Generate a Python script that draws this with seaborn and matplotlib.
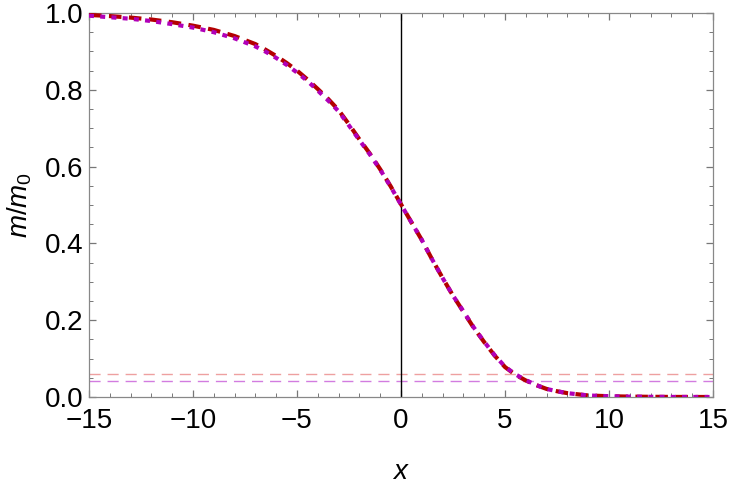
import numpy as np
import pandas as pd
import seaborn as sns
import matplotlib.pyplot as plt
from matplotlib.ticker import MultipleLocator

# -----------------------------------
# Data
# -----------------------------------
x_vals = [-15, -14, -13, -12, -11, -10, -9, -8, -7, -6.5, -6, -5.5, -5, -4.5, -4,
          -3.5, -3, -2.5, -2, -1.5, -1, -0.5, 0, 0.5, 1, 1.5, 2, 2.5, 3, 3.5, 4,
          4.5, 5, 5.5, 6, 6.5, 7, 7.5, 8, 8.5, 9, 10, 11, 12, 13, 14, 15]

m_dashed = [0.995, 0.992, 0.988, 0.983, 0.976, 0.967, 0.956, 0.940, 0.919, 0.904,
            0.888, 0.870, 0.850, 0.827, 0.802, 0.776, 0.747, 0.710, 0.671, 0.634,
            0.593, 0.549, 0.502, 0.455, 0.409, 0.358, 0.310, 0.264, 0.222, 0.180,
            0.143, 0.108, 0.078, 0.058, 0.043, 0.031, 0.021, 0.015, 0.010, 0.007,
            0.004, 0.002, 0.001, 0.0005, 0.0002, 0.0001, 0.0]

m_dotted = [0.993, 0.989, 0.985, 0.979, 0.971, 0.962, 0.950, 0.934, 0.913, 0.899,
            0.883, 0.865, 0.845, 0.823, 0.798, 0.772, 0.744, 0.707, 0.669, 0.632,
            0.592, 0.548, 0.501, 0.455, 0.409, 0.358, 0.310, 0.264, 0.223, 0.181,
            0.144, 0.109, 0.079, 0.059, 0.044, 0.031, 0.021, 0.015, 0.010, 0.007,
            0.004, 0.002, 0.001, 0.0005, 0.0002, 0.0001, 0.0]

thresh_red = 0.060
thresh_magenta = 0.041

df = pd.DataFrame({"x": x_vals, "dashed": m_dashed, "dotted": m_dotted})

# -----------------------------------
# Style
# -----------------------------------
sns.set_style("ticks")
plt.rcParams['font.family'] = ['Liberation Sans', 'DejaVu Sans']
plt.rcParams['mathtext.fontset'] = 'custom'
plt.rcParams['mathtext.rm'] = 'Liberation Sans'
plt.rcParams['mathtext.it'] = 'Liberation Sans:italic'
plt.rcParams['text.color'] = 'black'
plt.rcParams['axes.labelcolor'] = 'black'
plt.rcParams['xtick.labelcolor'] = 'black'
plt.rcParams['ytick.labelcolor'] = 'black'

fig = plt.figure(figsize=(7.31, 4.84), dpi=100)
ax = fig.add_axes([89 / 731, 1 - 397 / 484, 624 / 731, 384 / 484])

# -----------------------------------
# Curves
# -----------------------------------
ax.axhline(thresh_red, color="#eea0a0", lw=1.0, ls=(0, (8, 5)), zorder=1)
ax.axhline(thresh_magenta, color="#d27ce0", lw=1.0, ls=(0, (8, 5)), zorder=1)
ax.axvline(0, color="black", lw=1.0, zorder=1)

sns.lineplot(data=df, x="x", y="dashed", ax=ax, color="#b30000", lw=3.0,
             dashes=False, zorder=3)
ax.lines[-1].set_linestyle((0, (3, 1.8)))
sns.lineplot(data=df, x="x", y="dotted", ax=ax, color="#b000b8", lw=3.0,
             dashes=False, zorder=4)
ax.lines[-1].set_linestyle((0, (1.2, 1.5)))

# -----------------------------------
# Axes
# -----------------------------------
ax.set_xlim(-15, 15)
ax.set_ylim(0, 1)
ax.xaxis.set_major_locator(MultipleLocator(5))
ax.xaxis.set_minor_locator(MultipleLocator(1))
ax.yaxis.set_major_locator(MultipleLocator(0.2))
ax.yaxis.set_minor_locator(MultipleLocator(0.05))
ax.set_yticks([0, 0.2, 0.4, 0.6, 0.8, 1.0])
ax.set_yticklabels(["0.0", "0.2", "0.4", "0.6", "0.8", "1.0"])
ax.set_xticks([-15, -10, -5, 0, 5, 10, 15])
ax.set_xticklabels(["\u221215", "\u221210", "\u22125", "0", "5", "10", "15"])

ax.tick_params(which="both", direction="in", top=True, right=True,
               color="#777777", labelsize=20)
ax.tick_params(which="major", length=5, width=0.9)
ax.tick_params(which="minor", length=3, width=0.7)
ax.tick_params(axis="x", pad=8)
ax.tick_params(axis="y", pad=4)
for sp in ax.spines.values():
    sp.set_color("#888888")
    sp.set_linewidth(0.9)

ax.set_xlabel(r"$x$", fontsize=20, labelpad=18)
ax.set_ylabel(r"$m/m_0$", fontsize=20, labelpad=8)

fig.savefig("out.png", dpi=100)
